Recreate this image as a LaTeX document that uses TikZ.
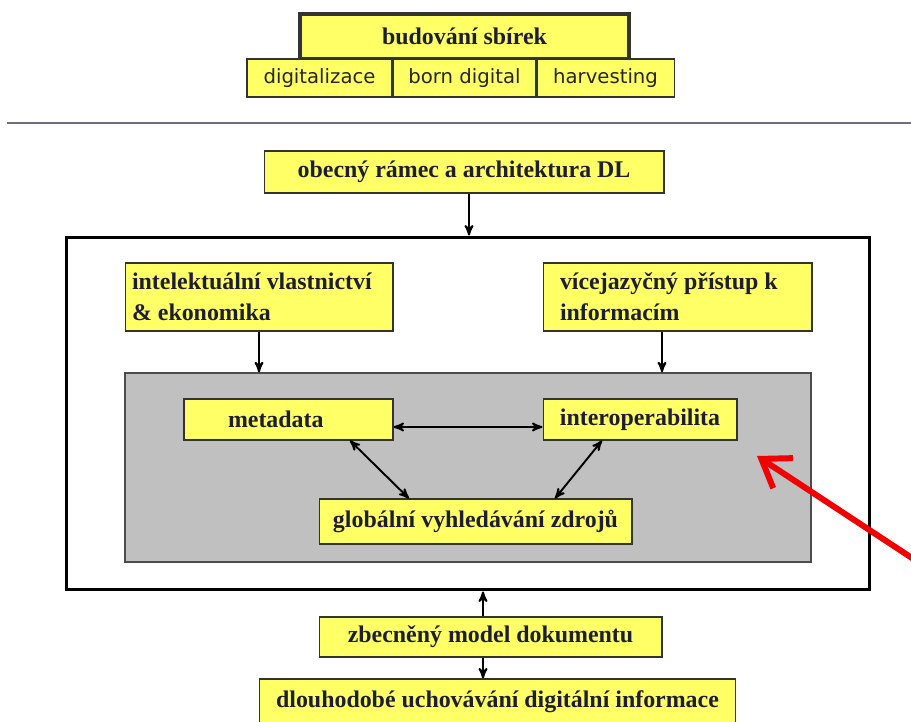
\documentclass[tikz,border=0pt]{standalone}
\usepackage{fontspec}
\setmainfont{Liberation Serif}
\newfontfamily\comicfont{DejaVu Sans}
\usetikzlibrary{arrows,arrows.meta,positioning}
\definecolor{zluta}{RGB}{255,255,102}
\definecolor{seda}{RGB}{192,192,192}
\definecolor{pismo}{RGB}{30,30,50}
\definecolor{cara}{RGB}{110,110,125}
\tikzstyle{bt} = [rectangle, draw=black!80, fill=zluta, text=pismo, line width=0.6pt,
    font=\fontsize{13.6}{17.6}\selectfont\bfseries, text centered, inner sep=0pt]
\tikzstyle{bunka} = [rectangle, draw=black!80, fill=zluta, text=black!85, line width=0.6pt,
    font=\comicfont\fontsize{11.2}{13}\selectfont, inner sep=0pt, minimum height=0.76cm]

\begin{document}
\begin{tikzpicture}[x=0.02cm,y=-0.02cm,->,>=stealth',line width=1.1pt]

  \useasboundingbox (0,0) rectangle (911,722);

  % horni cast
  \node[bt,line width=1.8pt,minimum width=6.58cm,minimum height=0.9cm] (sbirky) at (464.5,36.5) {budování sbírek};
  \node[bunka,minimum width=2.9cm]   (digit) at (319.5,78)     {digitalizace};
  \node[bunka,minimum width=2.86cm]  (born)  [right=0cm of digit] {born digital};
  \node[bunka,minimum width=2.74cm]  (harv)  [right=0cm of born]  {harvesting};

  \draw[-,cara,line width=1.7pt] (7,123) -- (911,123);

  % ramec a vnitrek
  \node[bt,minimum width=8cm,minimum height=0.84cm] (obecny) at (464,172) {obecný rámec a architektura DL};
  \node[draw=black,line width=1.7pt,minimum width=16.08cm,minimum height=7.06cm] (ramec) at (468,413.5) {};
  \node[bt,minimum height=1.36cm,text width=5.08cm,inner xsep=0.14cm,align=flush left] (intelekt) at (259,297)
       {intelektuální vlastnictví\\\& ekonomika};
  \node[bt,minimum height=1.36cm,text width=4.7cm,inner xsep=0.34cm,align=flush left]  (vicejaz) at (677.5,297)
       {vícejazyčný přístup k\\informacím};
  \node[draw=black!70,fill=seda,line width=0.8pt,minimum width=13.72cm,minimum height=3.78cm] (sedy) at (468,467.5) {};
  \node[bt,minimum height=0.82cm,text width=2.42cm,inner xsep=0.88cm,align=flush left] (metadata) at (288.5,419.5) {metadata};
  \node[bt,minimum width=3.88cm,minimum height=0.82cm] (interop)  at (640,419.5)   {interoperabilita};
  \node[bt,minimum width=6.26cm,minimum height=0.9cm]  (globalni) at (475.5,521.5) {globální vyhledávání zdrojů};

  % dole
  \node[bt,minimum width=6.86cm,minimum height=0.8cm]  (zbecneny)   at (490.5,637) {zbecněný model dokumentu};
  \node[bt,minimum width=9.54cm,minimum height=0.92cm] (dlouhodobe) at (497.5,702) {dlouhodobé uchovávání digitální informace};

  \draw ([xshift=0.1cm]obecny.south) -- ([xshift=0.1cm]obecny.south |- ramec.north);
  \draw (intelekt.south) -- (intelekt.south |- sedy.north);
  \draw ([xshift=-0.31cm]vicejaz.south) -- ([xshift=-0.31cm]vicejaz.south |- sedy.north);
  \draw[<->] ([yshift=-0.15cm]metadata.east) -- ([yshift=-0.15cm]interop.west);
  \draw[<->] ([xshift=1.23cm]metadata.south) -- ([xshift=-1.33cm]globalni.north);
  \draw[<->] ([xshift=-0.76cm]interop.south) -- ([xshift=1.59cm]globalni.north);
  \draw ([xshift=-0.15cm]zbecneny.north) -- ([xshift=-0.15cm]zbecneny.north |- ramec.south);
  \draw ([xshift=-0.15cm]zbecneny.south) -- ([xshift=-0.15cm]zbecneny.south |- dlouhodobe.north);

  % cervena sipka
  \coordinate (hrot)  at (757,456);
  \coordinate (konec) at (915,560);
  \draw[-{Straight Barb[length=0.52cm,width=0.72cm]},red!95!black,line width=3.4pt] (konec) -- (hrot);

\end{tikzpicture}
\end{document}
